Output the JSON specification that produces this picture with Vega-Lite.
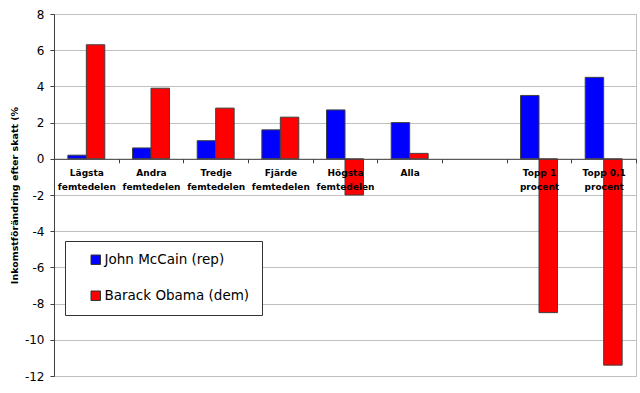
{
  "$schema": "https://vega.github.io/schema/vega-lite/v6.json",
  "width": 582,
  "height": 362,
  "autosize": {"type": "none"},
  "padding": {"left": 54, "top": 14, "right": 4, "bottom": 17},
  "background": "white",
  "config": {
    "view": {"stroke": "#c0c0c0", "strokeWidth": 1},
    "font": "DejaVu Sans"
  },
  "data": {
    "values": [
      {"grupp": "Lägsta|femtedelen", "kandidat": "John McCain (rep)", "varde": 0.2},
      {"grupp": "Lägsta|femtedelen", "kandidat": "Barack Obama (dem)", "varde": 6.3},
      {"grupp": "Andra|femtedelen", "kandidat": "John McCain (rep)", "varde": 0.6},
      {"grupp": "Andra|femtedelen", "kandidat": "Barack Obama (dem)", "varde": 3.9},
      {"grupp": "Tredje|femtedelen", "kandidat": "John McCain (rep)", "varde": 1.0},
      {"grupp": "Tredje|femtedelen", "kandidat": "Barack Obama (dem)", "varde": 2.8},
      {"grupp": "Fjärde|femtedelen", "kandidat": "John McCain (rep)", "varde": 1.6},
      {"grupp": "Fjärde|femtedelen", "kandidat": "Barack Obama (dem)", "varde": 2.3},
      {"grupp": "Högsta|femtedelen", "kandidat": "John McCain (rep)", "varde": 2.7},
      {"grupp": "Högsta|femtedelen", "kandidat": "Barack Obama (dem)", "varde": -2.0},
      {"grupp": "Alla", "kandidat": "John McCain (rep)", "varde": 2.0},
      {"grupp": "Alla", "kandidat": "Barack Obama (dem)", "varde": 0.3},
      {"grupp": "Topp 1|procent", "kandidat": "John McCain (rep)", "varde": 3.5},
      {"grupp": "Topp 1|procent", "kandidat": "Barack Obama (dem)", "varde": -8.5},
      {"grupp": "Topp 0,1|procent", "kandidat": "John McCain (rep)", "varde": 4.5},
      {"grupp": "Topp 0,1|procent", "kandidat": "Barack Obama (dem)", "varde": -11.4}
    ]
  },
  "mark": {"type": "bar", "stroke": "#404040", "strokeWidth": 1},
  "encoding": {
    "x": {
      "field": "grupp",
      "type": "nominal",
      "sort": null,
      "scale": {
        "domain": ["Lägsta|femtedelen", "Andra|femtedelen", "Tredje|femtedelen", "Fjärde|femtedelen", "Högsta|femtedelen", "Alla", " ", "Topp 1|procent", "Topp 0,1|procent"],
        "paddingInner": 0,
        "paddingOuter": 0
      },
      "axis": {
        "title": null,
        "orient": "bottom",
        "offset": -217.2,
        "zindex": 1,
        "grid": false,
        "tickBand": "extent",
        "tickSize": 4,
        "tickColor": "#404040",
        "domainColor": "#404040",
        "labelAngle": 0,
        "labelExpr": "split(datum.label, '|')",
        "labelFont": "DejaVu Sans",
        "labelFontSize": 9,
        "labelFontWeight": "bold",
        "labelColor": "black",
        "labelPadding": 6,
        "labelLineHeight": 14,
        "labelLimit": 200
      }
    },
    "xOffset": {
      "field": "kandidat",
      "type": "nominal",
      "sort": null,
      "scale": {
        "domain": ["John McCain (rep)", "Barack Obama (dem)"],
        "paddingInner": 0,
        "paddingOuter": 0.75
      }
    },
    "y": {
      "field": "varde",
      "type": "quantitative",
      "scale": {"domain": [-12, 8], "nice": false, "zero": false},
      "axis": {
        "title": "Inkomstförändring efter skatt (%",
        "titleFont": "DejaVu Sans",
        "titleFontSize": 9.5,
        "titleFontWeight": "bold",
        "titleColor": "black",
        "titlePadding": 5,
        "values": [-12, -10, -8, -6, -4, -2, 0, 2, 4, 6, 8],
        "labelExpr": "toString(datum.value)",
        "zindex": 0,
        "grid": true,
        "gridColor": "#c0c0c0",
        "tickSize": 4,
        "tickColor": "#404040",
        "domainColor": "#404040",
        "labelFont": "DejaVu Sans",
        "labelFontSize": 12,
        "labelColor": "black",
        "labelPadding": 6
      }
    },
    "color": {
      "field": "kandidat",
      "type": "nominal",
      "sort": null,
      "scale": {
        "domain": ["John McCain (rep)", "Barack Obama (dem)"],
        "range": ["#0000FF", "#FF0000"]
      },
      "legend": {
        "title": null,
        "orient": "none",
        "legendX": 11,
        "legendY": 227,
        "strokeColor": "#333333",
        "fillColor": "white",
        "padding": 12,
        "symbolType": "square",
        "symbolSize": 90,
        "symbolStrokeColor": "#333333",
        "symbolStrokeWidth": 1,
        "symbolOffset": 12,
        "labelFont": "DejaVu Sans",
        "labelFontSize": 13.5,
        "labelColor": "black",
        "labelOffset": 2,
        "rowPadding": 21
      }
    }
  }
}
